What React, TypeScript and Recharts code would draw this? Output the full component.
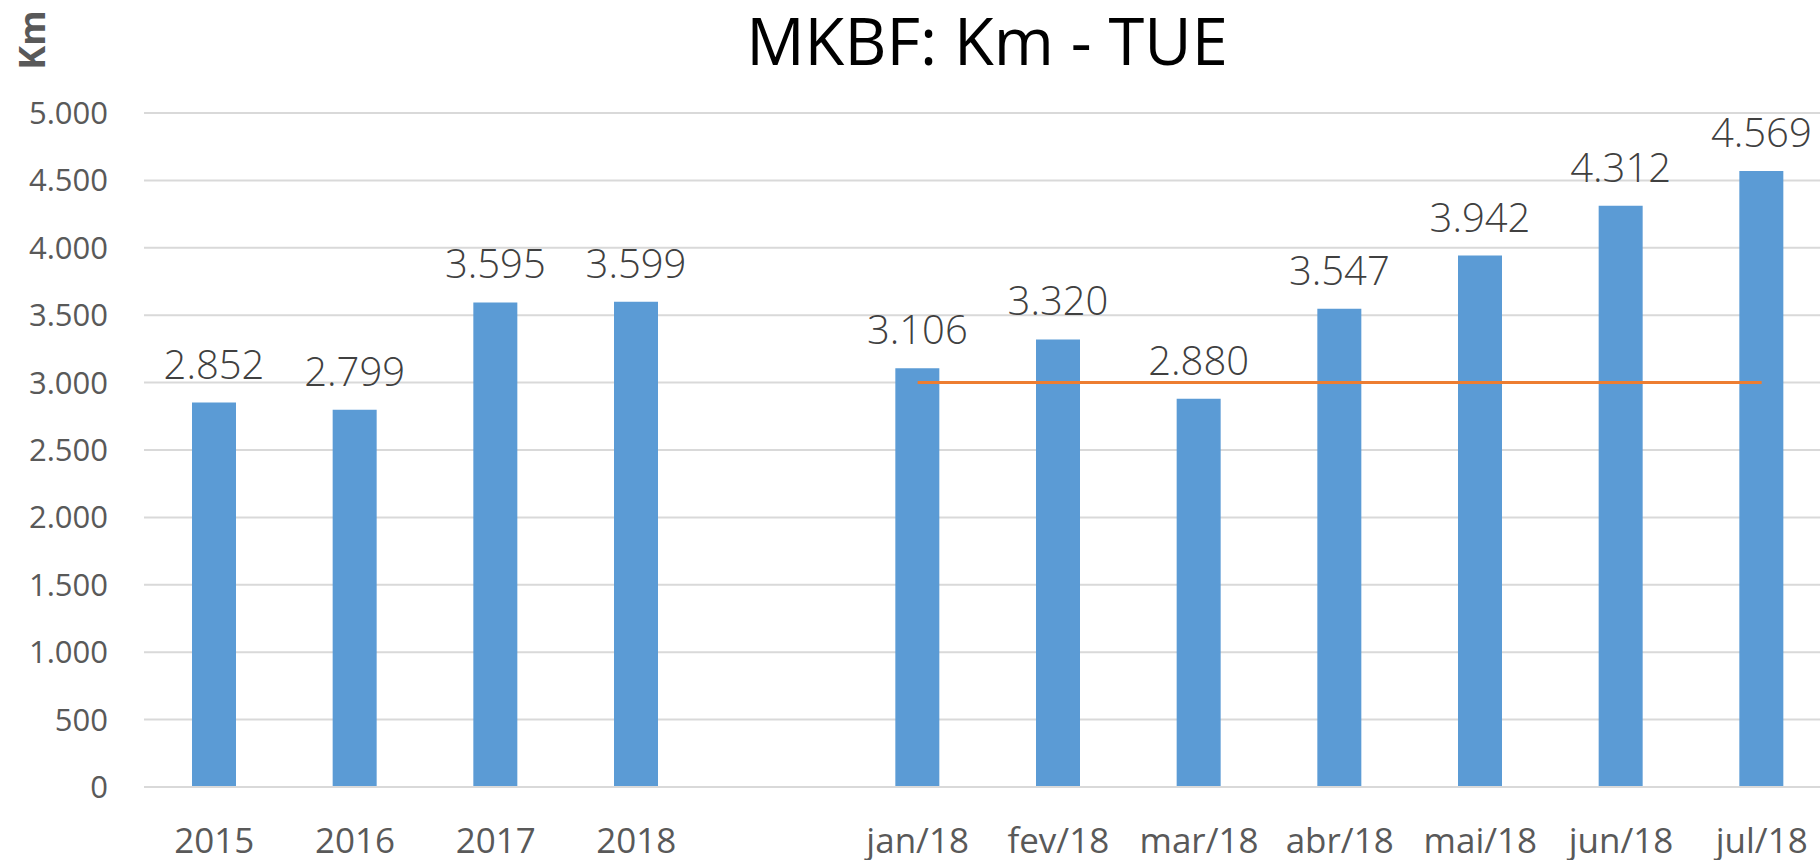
import React from "react";
import { ComposedChart, Bar, Line, XAxis, YAxis, CartesianGrid, LabelList } from "recharts";

const CATEGORIAS = ["2015", "2016", "2017", "2018", " ", "jan/18", "fev/18", "mar/18", "abr/18", "mai/18", "jun/18", "jul/18"];
const MKBF = [2852, 2799, 3595, 3599, null, 3106, 3320, 2880, 3547, 3942, 4312, 4569];
const META = [null, null, null, null, null, 3000, 3000, 3000, 3000, 3000, 3000, 3000];
const Y_TICKS = [0, 500, 1000, 1500, 2000, 2500, 3000, 3500, 4000, 4500, 5000];

const FONT = "'Open Sans', 'Noto Sans', sans-serif";
const AZUL = "#5B9BD5";
const LARANJA = "#ED7D31";
const CINZA = "#595959";

// 3106 -> "3.106"
function fmt(v: any) {
  if (v === null || v === undefined || v === "") return "";
  const n = Number(v);
  const mil = Math.floor(n / 1000);
  const resto = String(n % 1000).padStart(3, "0");
  return mil > 0 ? `${mil}.${resto}` : String(n);
}

const data = CATEGORIAS.map((c, i) => ({ cat: c, valor: MKBF[i], meta: META[i] }));

export default function App() {
  return (
    <div style={{ position: "absolute", left: 0, top: 0, width: 1820, height: 860, overflow: "hidden", background: "#fff" }}>
      <ComposedChart
        width={1840}
        height={860}
        data={data}
        margin={{ top: 113, right: 8, bottom: 0, left: 0 }}
        barCategoryGap={0}
      >
        <CartesianGrid vertical={false} stroke="#D9D9D9" strokeWidth={2} />
        <XAxis
          dataKey="cat"
          interval={0}
          height={73}
          tickLine={false}
          tickSize={0}
          tickMargin={41}
          axisLine={{ stroke: "#D9D9D9", strokeWidth: 2 }}
          tick={{ fill: CINZA, fontSize: 35, fontFamily: FONT }}
        />
        <YAxis
          width={144}
          domain={[0, 5000]}
          ticks={Y_TICKS}
          tickFormatter={fmt}
          axisLine={false}
          tickLine={false}
          tickSize={0}
          tickMargin={36}
          tick={{ fill: CINZA, fontSize: 31, fontFamily: FONT }}
        />
        <Bar dataKey="valor" fill={AZUL} barSize={44} isAnimationActive={false}>
          <LabelList
            dataKey="valor"
            position="top"
            offset={24}
            formatter={fmt}
            fill="#404040"
            fontSize={40}
            fontWeight={300}
            fontFamily={FONT}
          />
        </Bar>
        <Line
          dataKey="meta"
          type="linear"
          stroke={LARANJA}
          strokeWidth={3}
          dot={false}
          activeDot={false}
          isAnimationActive={false}
        />
      </ComposedChart>
      <svg width={1820} height={860} style={{ position: "absolute", left: 0, top: 0, pointerEvents: "none" }}>
        <text x={987} y={65} textAnchor="middle" fontSize={65} fontFamily={FONT} fill="#000">
          MKBF: Km - TUE
        </text>
        <text
          x={45}
          y={40}
          textAnchor="middle"
          fontSize={36}
          fontWeight={700}
          fontFamily={FONT}
          fill={CINZA}
          transform="rotate(-90, 45, 40)"
        >
          Km
        </text>
      </svg>
    </div>
  );
}
